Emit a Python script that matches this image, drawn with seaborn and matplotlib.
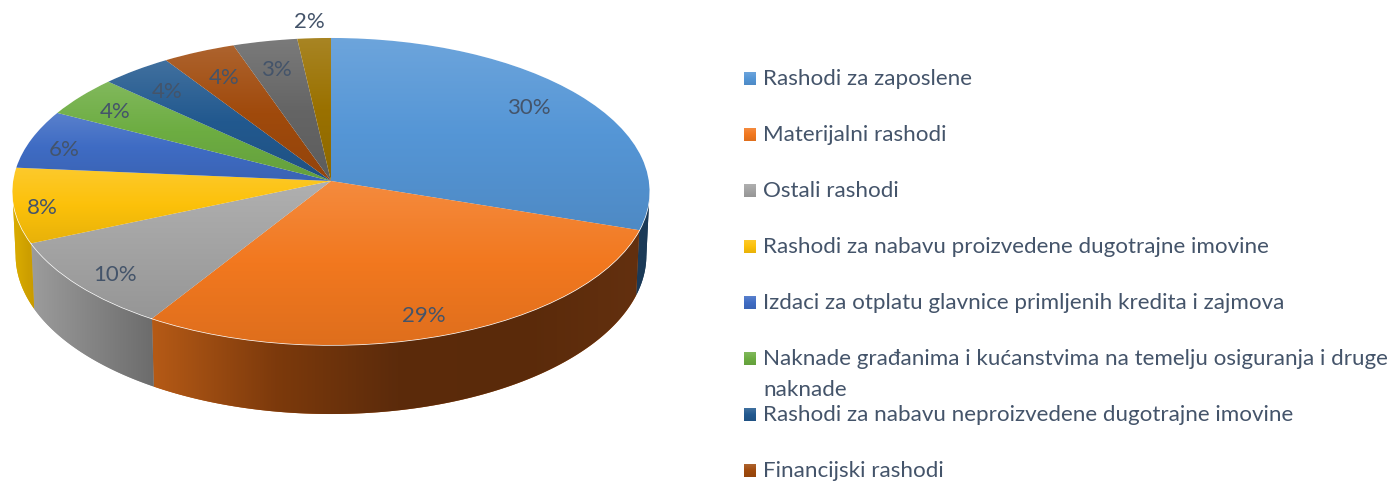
import numpy as np
import matplotlib
matplotlib.use("Agg")
import matplotlib.pyplot as plt
from matplotlib.colors import to_rgb
from matplotlib.patches import Rectangle
from matplotlib.transforms import Transform
import seaborn as sns

# chart values
categories = [
    "Rashodi za zaposlene",
    "Materijalni rashodi",
    "Ostali rashodi",
    "Rashodi za nabavu proizvedene dugotrajne imovine",
    "Izdaci za otplatu glavnice primljenih kredita i zajmova",
    "Naknade građanima i kućanstvima na temelju osiguranja i druge\nnaknade",
    "Rashodi za nabavu neproizvedene dugotrajne imovine",
    "Financijski rashodi",
    "Ostalo 1",
    "Ostalo 2",
]
shares = [30.1, 28.8, 9.6, 7.9, 6.2, 4.3, 3.85, 3.95, 3.49, 1.81]
legend_rows = 8

# colours
base_hex = ["#5596d6", "#f2781f", "#a3a3a3", "#fcc10a", "#3f6cc4", "#6dad42",
            "#22598f", "#a04a0c", "#656565", "#9a7100"]
wall_stops = {
    0: ["#1b3a57", "#1b3a57"],
    1: ["#b55a16", "#7d3a0c", "#5c2b0b", "#5a2a0a", "#63300f"],
    2: ["#9c9c9c", "#6c6c6c"],
    3: ["#dcae00", "#c89a00"],
}
text_color = "#44546a"

# layout, in figure pixels
W, H = 1396, 483
CX, CY = 331, 181
RX, RY, K = 317.8, 152.8, 0.0684
label_pos = [(529, 108), (424, 316), (115, 275), (42, 208), (64, 150),
             (115, 112), (167, 92), (224, 78), (276, 70), (309, 22)]
legend_y = [78, 134, 190, 246, 302, 358, 414, 470]


class TiltTransform(Transform):
    # unit circle -> perspective ellipse on the page
    input_dims = 2
    output_dims = 2

    def transform_non_affine(self, values):
        values = np.asarray(values)
        w = 1 + K * values[:, 1]
        return np.column_stack((CX + RX * values[:, 0] / w, CY - RY * values[:, 1] / w))


def blend(c, other, amount):
    c = np.array(to_rgb(c))
    return tuple(c + (np.array(other) - c) * amount)


def gradient(ax, stops, box, vertical=True, clip=None, zorder=2):
    x0, x1, y0, y1 = box
    n = 128
    pos = np.linspace(0, 1, len(stops))
    t = np.linspace(0, 1, n)
    rgb = np.array([to_rgb(s) for s in stops])
    img = np.column_stack([np.interp(t, pos, rgb[:, i]) for i in range(3)])
    img = img[:, None, :] if vertical else img[None, :, :]
    im = ax.imshow(img, extent=(x0, x1, y1, y0), aspect="auto", origin="upper",
                   interpolation="bilinear", zorder=zorder)
    if clip is not None:
        im.set_clip_path(clip)
    return im


sns.set_theme(style="white")
plt.rcParams["font.family"] = ["Lato", "DejaVu Sans"]
palette = sns.color_palette(base_hex)

fig = plt.figure(figsize=(W / 100, H / 100), dpi=100)
ax = fig.add_axes([0, 0, 1, 1])

wedges, _, autotexts = ax.pie(shares, colors=palette, startangle=90, counterclock=False,
                              autopct="%.0f%%", textprops={"color": text_color, "fontsize": 16})
ax.set_aspect("auto")
ax.set_xlim(0, W)
ax.set_ylim(H, 0)
tilt = TiltTransform()
to_page = tilt + ax.transData

for i, w in enumerate(wedges):
    w.set_transform(to_page)
    w.set_zorder(3)
    ts = np.radians(np.linspace(w.theta1, w.theta2, 240))
    rim = tilt.transform_non_affine(np.column_stack((np.cos(ts), np.sin(ts))))

    # top face, light at the top of the slice and darker at its bottom
    xs = np.append(rim[:, 0], CX)
    ys = np.append(rim[:, 1], CY)
    col = palette[i]
    stops = [blend(col, (1, 1, 1), 0.14), col, blend(col, (0, 0, 0), 0.08)]
    gradient(ax, stops, (xs.min(), xs.max(), ys.min(), ys.max()), clip=w, zorder=4)

    # side wall, only the front part of the rim shows
    front = np.sin(ts) < -K
    if i in wall_stops and front.any():
        r = rim[front]
        depth = np.clip(65 + 4 * (r[:, 1] - 229) / 116, 64, 69)
        low_x = CX + (r[:, 0] - CX) * 0.99
        px = np.concatenate((r[:, 0], low_x[::-1]))
        py = np.concatenate((r[:, 1], (r[:, 1] + depth)[::-1]))
        poly = ax.fill(px, py, color=wall_stops[i][0], lw=0, zorder=1)[0]
        gradient(ax, wall_stops[i], (px.min(), px.max(), py.min(), py.max()),
                 vertical=False, clip=poly, zorder=2)

for txt, (x, y) in zip(autotexts, label_pos):
    txt.set_position((x, y))
    txt.set_zorder(6)

# legend, rows are not evenly filled so it is placed by hand
for i in range(legend_rows):
    y = legend_y[i]
    col = palette[i]
    sq = Rectangle((744, y - 6), 12, 13, lw=0, facecolor=col, zorder=4)
    ax.add_patch(sq)
    gradient(ax, [blend(col, (1, 1, 1), 0.14), col, blend(col, (0, 0, 0), 0.08)],
             (744, 756, y - 6, y + 7), clip=sq, zorder=5)
    ax.text(763, y - 9, categories[i], color=text_color, fontsize=16.1, va="top", ha="left",
            linespacing=1.7, zorder=6)

ax.set_xlim(0, W)
ax.set_ylim(H, 0)
ax.axis("off")
fig.savefig("out.png", dpi=100, facecolor="white")
